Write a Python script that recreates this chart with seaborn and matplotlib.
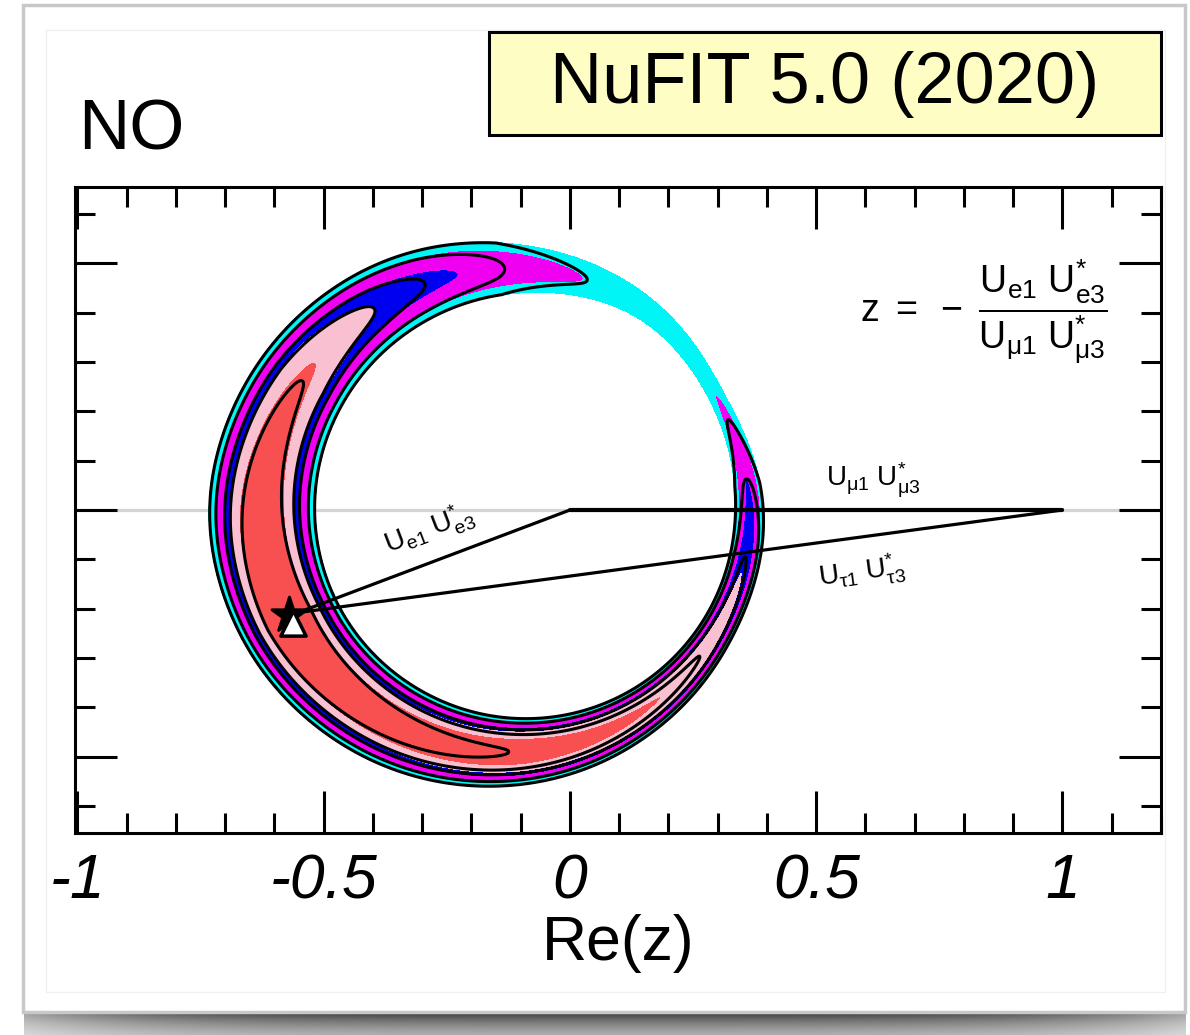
import numpy as np
import matplotlib
matplotlib.use('Agg')
import matplotlib.pyplot as plt
from matplotlib.patches import Rectangle
from matplotlib.ticker import MultipleLocator, FixedLocator
import seaborn as sns
import pandas as pd

# delta chi2 levels: 1sigma, 90%, 2sigma, 99%, 3sigma (2 dof)
cl_levels = [2.30, 4.61, 6.18, 9.21, 11.83]
cl_colors = ['#f85050', '#f8c0d0', '#0000f0', '#f000f0', '#00f6f6']

# allowed ring in the complex z plane, polar around ring_center (deg, radius)
ring_center = (-0.09, 0.0)
ring_angle = [0, 30, 60, 90, 120, 150, 180, 210, 240, 270, 300, 330]
ring_inner = [0.425, 0.433, 0.455, 0.440, 0.432, 0.428, 0.427, 0.425, 0.422, 0.422, 0.423, 0.424]
ring_outer = [0.485, 0.460, 0.500, 0.535, 0.583, 0.620, 0.648, 0.630, 0.596, 0.556, 0.518, 0.489]

# minimum delta chi2 along the ring (coloured regions)
fill_angle = [8, 31, 53, 76, 106, 127, 145, 180, 205, 235, 270, 306, 344]
fill_min = [6.18, 9.21, 10.8, 9.21, 6.18, 4.61, 2.30, 0.6, 0.0, 0.5, 0.9, 2.30, 4.61]

# minimum delta chi2 along the ring (black contours)
line_angle = [8, 24, 50, 75, 95, 114, 127, 150, 205, 266, 320, 348]
line_min = [9.21, 11.83, 13.5, 11.83, 9.21, 6.18, 4.61, 2.30, 0.0, 2.30, 4.61, 6.18]

# best fit points and triangle
star_fit = (-0.570, -0.212)
tri_fit = (-0.563, -0.229)
apex = (-0.552, -0.208)

xtick_values = [-1, -0.5, 0, 0.5, 1]
xtick_labels = ['-1', '-0.5', '0', '0.5', '1']
ytick_values = [-0.5, 0, 0.5]


def smooth_ring(vals, sigma=8.0):
    fine = np.arange(0, 360, 1.0)
    v = np.interp(fine, ring_angle, vals, period=360)
    k = np.exp(-0.5 * (np.arange(-30, 31) / sigma) ** 2)
    k /= k.sum()
    vv = np.convolve(np.concatenate([v[-30:], v, v[:30]]), k, mode='valid')
    return fine, vv


def chi2_field(X, Y, angles, mins, width=1.0, p=2.2, full_below=11.83):
    dx = X - ring_center[0]
    dy = Y - ring_center[1]
    r = np.hypot(dx, dy)
    th = np.degrees(np.arctan2(dy, dx)) % 360
    fa, rin = smooth_ring(ring_inner)
    _, rout = smooth_ring(ring_outer)
    r_in = np.interp(th, fa, rin, period=360)
    r_out = np.interp(th, fa, rout, period=360)
    mid = 0.5 * (r_in + r_out)
    half = 0.5 * (r_out - r_in) * width
    m = np.interp(th, angles, mins, period=360)
    amp = np.maximum(cl_levels[-1] - np.minimum(m, full_below), 0.3)
    return m + amp * np.abs((r - mid) / half) ** p


sns.set_style('ticks')
plt.rcParams['font.family'] = ['Liberation Sans', 'DejaVu Sans']
plt.rcParams['axes.unicode_minus'] = False
plt.rcParams['mathtext.fontset'] = 'custom'
plt.rcParams['mathtext.rm'] = 'Liberation Sans'
plt.rcParams['mathtext.it'] = 'Liberation Sans:italic'
plt.rcParams['mathtext.sf'] = 'Liberation Sans'
plt.rcParams['text.color'] = 'black'
plt.rcParams['axes.labelcolor'] = 'black'
plt.rcParams['xtick.color'] = 'black'
plt.rcParams['ytick.color'] = 'black'

W, H = 1190, 1035
fig = plt.figure(figsize=(W / 100, H / 100), dpi=100)
fig.patch.set_facecolor('white')

# screenshot-like panel with shadow
bg = fig.add_axes([0, 0, 1, 1], zorder=-10)
bg.set_xlim(0, W)
bg.set_ylim(H, 0)
bg.axis('off')
sx = np.linspace(-1, 1, 400)
sy = np.linspace(0, 1, 40)
SX, SY = np.meshgrid(sx, sy)
shade = 0.78 * np.exp(-SY * 0.9) * (1 - 0.5 * SX ** 4)
bg.imshow(1 - shade, cmap='gray', vmin=0, vmax=1, extent=[24, 1186, 1035, 1012],
          aspect='auto', zorder=0)
bg.set_xlim(0, W)
bg.set_ylim(H, 0)
bg.add_patch(Rectangle((23, 5), 1162, 1007, fc='white', ec='#c8c8c8', lw=2.5, zorder=1))
bg.add_patch(Rectangle((46, 30), 1119, 962, fc='none', ec='#f0f0f0', lw=1.0, zorder=2))
bg.add_patch(Rectangle((489, 32), 672, 103, fc='#fefec4', ec='black', lw=2.2, zorder=3))
bg.text(825, 84, 'NuFIT 5.0 (2020)', fontsize=52, ha='center', va='center', zorder=4)
bg.text(78, 150, 'NO', fontsize=51, ha='left', va='baseline', zorder=4)

ax = fig.add_axes([75 / W, 1 - 833 / H, (1161 - 75) / W, (833 - 187) / H])
ax.set_facecolor('white')
ax.set_xlim(-1.005, 1.2)
ax.set_ylim(-0.655, 0.655)

xg = np.linspace(-1.005, 1.2, 1500)
yg = np.linspace(-0.655, 0.655, 900)
X, Y = np.meshgrid(xg, yg)
chi_fill = chi2_field(X, Y, fill_angle, fill_min)
chi_line = chi2_field(X, Y, line_angle, line_min, width=0.985, full_below=9.0)

ax.contourf(X, Y, chi_fill, levels=[-1] + cl_levels, colors=cl_colors, zorder=1)
ax.contour(X, Y, chi_line, levels=cl_levels, colors='black', linewidths=2.2, zorder=2)

ax.axhline(0, color='#d4d4d4', lw=2.3, zorder=0.5)

sides = pd.DataFrame({
    'side': ['mu', 'mu', 'e', 'e', 'tau', 'tau'],
    're': [0, 1, 0, apex[0], apex[0], 1],
    'im': [0, 0, 0, apex[1], apex[1], 0],
})
sns.lineplot(data=sides[sides.side == 'mu'], x='re', y='im', sort=False, estimator=None,
             color='black', lw=3.0, ax=ax, zorder=3)
sns.lineplot(data=sides[sides.side != 'mu'], x='re', y='im', units='side', sort=False,
             estimator=None, color='black', lw=2.3, ax=ax, zorder=3)

sns.scatterplot(x=[star_fit[0]], y=[star_fit[1]], marker='*', s=700, color='black',
                edgecolor='black', ax=ax, zorder=4)
sns.scatterplot(x=[tri_fit[0]], y=[tri_fit[1]], marker='^', s=330, color='white',
                edgecolor='black', linewidth=2.5, ax=ax, zorder=5)

ax.text(-0.286, -0.040, r'$\mathrm{U_{e1}\ U^{*}_{e3}}$', rotation=21, ha='center',
        va='center', fontsize=20, zorder=6)
ax.text(0.615, 0.060, r'$\mathrm{U_{\mu1}\ U^{*}_{\mu3}}$', ha='center', va='center',
        fontsize=20, zorder=6)
ax.text(0.592, -0.128, r'$\mathrm{U_{\tau1}\ U^{*}_{\tau3}}$', rotation=7.7, ha='center',
        va='center', fontsize=20, zorder=6)
ax.text(0.84, 0.40,
        r'$\mathrm{z}\ =\ -\ \dfrac{\mathrm{U_{e1}\ U^{*}_{e3}}}{\mathrm{U_{\mu1}\ U^{*}_{\mu3}}}$',
        ha='center', va='center', fontsize=27, zorder=6)

ax.xaxis.set_major_locator(FixedLocator(xtick_values))
ax.set_xticklabels(xtick_labels)
ax.xaxis.set_minor_locator(MultipleLocator(0.1))
ax.yaxis.set_major_locator(FixedLocator(ytick_values))
ax.yaxis.set_minor_locator(MultipleLocator(0.1))
ax.tick_params(which='both', direction='in', top=True, right=True, width=2.2,
               labelleft=False, color='black', labelcolor='black')
ax.tick_params(which='major', length=30, labelsize=45, pad=14)
ax.tick_params(which='minor', length=14.5)
for lbl in ax.get_xticklabels():
    lbl.set_fontstyle('italic')
for s in ax.spines.values():
    s.set_linewidth(2.2)
    s.set_color('black')
    s.set_zorder(10)
ax.set_xlabel('Re(z)', fontsize=45, labelpad=2)
ax.set_ylabel('')

fig.savefig('out.png', dpi=100)
